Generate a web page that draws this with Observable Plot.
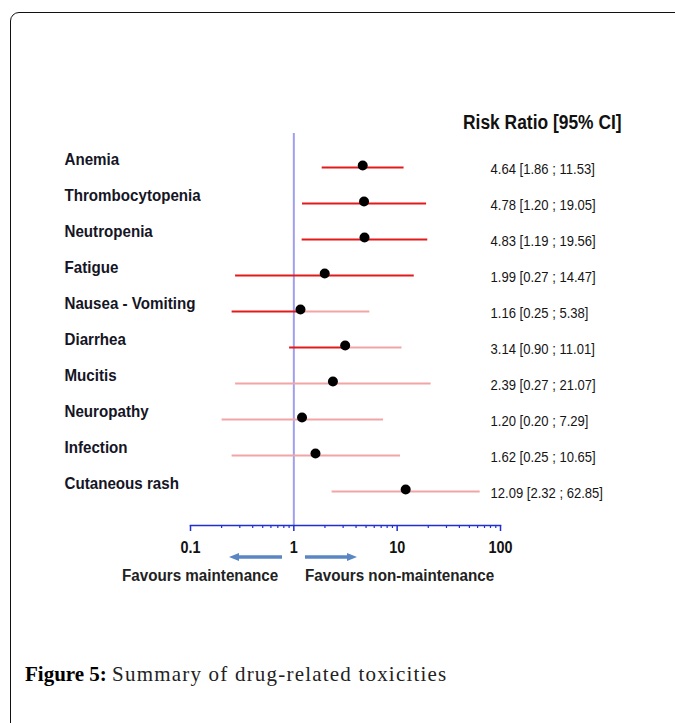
<!DOCTYPE html>
<html>
<head>
<meta charset="utf-8">
<script src="https://cdn.jsdelivr.net/npm/d3@7"></script>
<script src="https://cdn.jsdelivr.net/npm/@observablehq/plot@0.6"></script>
<style>
  html, body { margin: 0; padding: 0; background: #fff; width: 675px; height: 723px; overflow: hidden; }
  #frame { position: absolute; left: 10px; top: 12px; width: 720px; height: 760px; border: 1.5px solid #111; border-radius: 9px; box-sizing: border-box; }
  #chart { position: absolute; left: 0; top: 0; }
  #header { position: absolute; left: 463px; top: 111px; font: bold 20px "Liberation Sans", Arial, sans-serif; color: #111; white-space: nowrap; transform: scaleX(0.87); transform-origin: left center; }
  #caption { position: absolute; left: 25px; top: 662px; font: 21px "Liberation Serif", serif; color: #222; white-space: nowrap; }
  #caption b { color: #000; }
  #caption span { letter-spacing: 1.2px; }
  .fav { position: absolute; top: 567px; font: bold 16px "Liberation Sans", Arial, sans-serif; color: #222; white-space: nowrap; transform: scaleX(0.95); transform-origin: left center; }
</style>
</head>
<body>
<div id="frame"></div>
<div id="chart"></div>
<div id="header">Risk Ratio [95% CI]</div>
<div class="fav" style="left:122px">Favours maintenance</div>
<div class="fav" style="left:305px">Favours non-maintenance</div>
<svg style="position:absolute;left:0;top:0" width="675" height="723">
  <defs>
    <marker id="ah" viewBox="0 0 10 10" refX="5" refY="5" markerWidth="3" markerHeight="3" orient="auto-start-reverse">
      <path d="M0,1 L10,5 L0,9 z" fill="#5b86c4"/>
    </marker>
  </defs>
  <line x1="282" y1="557" x2="234" y2="557" stroke="#5b86c4" stroke-width="3.5" marker-end="url(#ah)"/>
  <line x1="305" y1="557" x2="352" y2="557" stroke="#5b86c4" stroke-width="3.5" marker-end="url(#ah)"/>
</svg>
<div id="caption"><b>Figure 5:</b> <span>Summary of drug-related toxicities</span></div>
<script>
const toxicities = ["Anemia","Thrombocytopenia","Neutropenia","Fatigue","Nausea - Vomiting","Diarrhea","Mucitis","Neuropathy","Infection","Cutaneous rash"];
const riskRatio = [4.64, 4.78, 4.83, 1.99, 1.16, 3.14, 2.39, 1.20, 1.62, 12.09];
const ciLow     = [1.86, 1.20, 1.19, 0.27, 0.25, 0.90, 0.27, 0.20, 0.25, 2.32];
const ciHigh    = [11.53, 19.05, 19.56, 14.47, 5.38, 11.01, 21.07, 7.29, 10.65, 62.85];
const ciLabels  = ["4.64 [1.86 ; 11.53]","4.78 [1.20 ; 19.05]","4.83 [1.19 ; 19.56]","1.99 [0.27 ; 14.47]","1.16 [0.25 ; 5.38]","3.14 [0.90 ; 11.01]","2.39 [0.27 ; 21.07]","1.20 [0.20 ; 7.29]","1.62 [0.25 ; 10.65]","12.09 [2.32 ; 62.85]"];
const leftSolid  = [true, true, true, true, true, true, false, false, false, false];
const rightSolid = [true, true, true, true, false, false, false, false, false, false];
const majorTicks = [0.1, 1, 10, 100];
const minorTicks = [0.2,0.3,0.4,0.5,0.6,0.7,0.8,0.9,2,3,4,5,6,7,8,9,20,30,40,50,60,70,80,90];

const rows = toxicities.map((name, i) => ({
  name, rr: riskRatio[i], lo: ciLow[i], hi: ciHigh[i], label: ciLabels[i],
  lc: leftSolid[i] ? "#e31a1c" : "#f2a5a5",
  rc: rightSolid[i] ? "#e31a1c" : "#f2a5a5"
}));

const sans = '"Liberation Sans", Arial, sans-serif';

const chart = Plot.plot({
  width: 675,
  height: 600,
  marginLeft: 190,
  marginRight: 175,
  marginTop: 133,
  marginBottom: 75,
  style: { background: "transparent", fontFamily: sans },
  x: { type: "log", domain: [0.1, 100] },
  y: { type: "point", domain: toxicities, range: [165, 492], padding: 0, axis: null },
  marks: [
    Plot.ruleX([1], { stroke: "#9f9ff0", strokeWidth: 2 }),
    Plot.frame({ anchor: "bottom", stroke: "#1f2fd0", strokeWidth: 1.5 }),
    Plot.axisX({ ticks: minorTicks, tickSize: 3, text: null, stroke: "#1f2fd0", strokeWidth: 1.2 }),
    Plot.axisX({ ticks: majorTicks, tickSize: 6, tickPadding: 10, stroke: "#1f2fd0", strokeWidth: 1.5,
      fill: "#111", fontSize: 16, fontWeight: "bold", tickFormat: d => String(d), label: null }),
    Plot.link(rows, { x1: "lo", x2: "rr", y1: "name", y2: "name", stroke: "lc", strokeWidth: 1.8 }),
    Plot.link(rows, { x1: "rr", x2: "hi", y1: "name", y2: "name", stroke: "rc", strokeWidth: 1.8 }),
    Plot.dot(rows, { x: "rr", y: "name", r: 5, fill: "black", dy: -2 }),
    Plot.text(rows, { y: "name", text: "name", frameAnchor: "left", dx: -126, dy: -7.5, textAnchor: "start",
      fontSize: 17, fontWeight: "bold", fill: "#151525", className: "rowlabel" }),
    Plot.text(rows, { y: "name", text: "label", frameAnchor: "right", dx: -10, dy: 1.5, textAnchor: "start",
      fontSize: 15, fill: "#151515", className: "cilabel" })
  ]
});
document.getElementById("chart").appendChild(chart);

// condense text horizontally to mimic the narrow typeface of the original
function condense(selection, factor) {
  selection.each(function () {
    const w = this.getComputedTextLength();
    this.setAttribute("textLength", (w * factor).toFixed(1));
    this.setAttribute("lengthAdjust", "spacingAndGlyphs");
  });
}
condense(d3.select(chart).selectAll(".rowlabel text"), 0.89);
condense(d3.select(chart).selectAll(".cilabel text"), 0.87);
condense(d3.select(chart).selectAll("[aria-label='x-axis tick label'] text"), 0.9);
</script>
</body>
</html>
